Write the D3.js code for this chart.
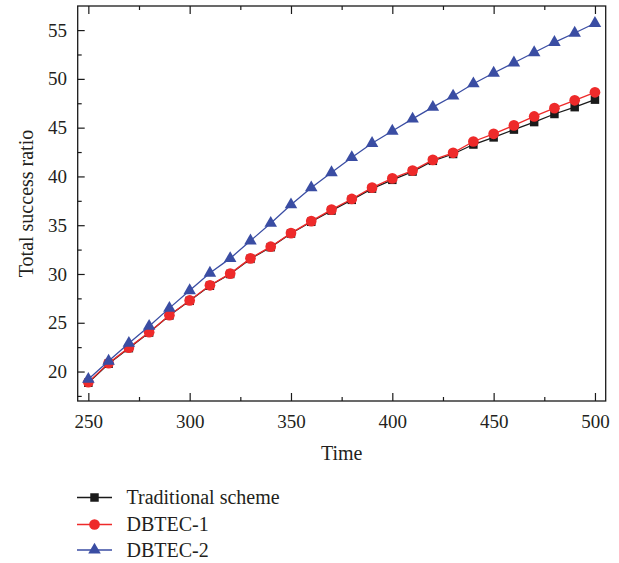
<!DOCTYPE html>
<html><head><meta charset="utf-8">
<script src="https://cdn.jsdelivr.net/npm/d3@7"></script>
<style>body{margin:0;background:#fff}svg{display:block}</style>
</head><body>
<svg id="chart" width="619" height="563"></svg>
<script>
const times = [250,260,270,280,290,300,310,320,330,340,350,360,370,380,390,400,410,420,430,440,450,460,470,480,490,500];
const traditional = [18.85,20.8,22.4,24.0,25.75,27.25,28.8,30.0,31.55,32.75,34.15,35.35,36.5,37.6,38.75,39.65,40.5,41.6,42.3,43.27,44.0,44.8,45.57,46.4,47.1,47.87];
const dbtec1 = [18.9,20.86,22.45,24.03,25.78,27.29,28.84,30.04,31.6,32.8,34.19,35.42,36.6,37.69,38.85,39.8,40.6,41.7,42.42,43.58,44.37,45.23,46.15,47.0,47.8,48.62];
const dbtec2 = [19.22,21.07,22.9,24.65,26.5,28.3,30.1,31.6,33.4,35.2,37.1,38.85,40.4,41.95,43.4,44.65,45.9,47.1,48.25,49.5,50.6,51.65,52.7,53.75,54.7,55.7];
const seriesNames = ["Traditional scheme","DBTEC-1","DBTEC-2"];
const xTicks = [250,300,350,400,450,500];
const yTicks = [20,25,30,35,40,45,50,55];

const colors = ["#1a1a1a","#ee2a2a","#3a4da3"];
const shapes = [d3.symbolSquare, d3.symbolCircle, d3.symbolTriangle];
const sizes = [72, 90, 68];
const font = "'Liberation Serif','Times New Roman',serif";

const svg = d3.select("#chart");
const L = 77.7, R = 605.7, T = 6, B = 401;
const x = d3.scaleLinear().domain([244.75, 505.3]).range([L, R]);
const y = d3.scaleLinear().domain([16.98, 57.47]).range([B, T]);

const series = [traditional, dbtec1, dbtec2];

series.forEach((vals, i) => {
  const data = times.map((t, j) => ({t, v: vals[j]}));
  svg.append("path").datum(data)
    .attr("fill","none").attr("stroke",colors[i]).attr("stroke-width",1.3)
    .attr("d", d3.line().x(d=>x(d.t)).y(d=>y(d.v)));
  svg.append("g").selectAll("path").data(data).join("path")
    .attr("transform", d=>`translate(${x(d.t)},${y(d.v)})`)
    .attr("d", d3.symbol().type(shapes[i]).size(sizes[i]))
    .attr("fill", colors[i]);
});

svg.append("rect").attr("x",L).attr("y",T).attr("width",R-L).attr("height",B-T)
  .attr("fill","none").attr("stroke","#1a1a1a").attr("stroke-width",1.3);

const xMinor = d3.range(275, 501, 50);
const yMinor = d3.range(17.5, 57.5, 5);
const gx = svg.append("g").attr("transform",`translate(0,${B})`)
  .call(d3.axisBottom(x).tickValues(xTicks).tickSize(-8).tickPadding(13.5).tickFormat(d3.format("d")));
const gxm = svg.append("g").attr("transform",`translate(0,${B})`)
  .call(d3.axisBottom(x).tickValues(xMinor).tickSize(-4).tickFormat(""));
const gxt = svg.append("g").attr("transform",`translate(0,${T})`)
  .call(d3.axisTop(x).tickValues(xTicks).tickSize(-8).tickFormat(""));
const gxtm = svg.append("g").attr("transform",`translate(0,${T})`)
  .call(d3.axisTop(x).tickValues(xMinor).tickSize(-4).tickFormat(""));
const gy = svg.append("g").attr("transform",`translate(${L},0)`)
  .call(d3.axisLeft(y).tickValues(yTicks).tickSize(-7).tickPadding(10.7).tickFormat(d3.format("d")));
const gym = svg.append("g").attr("transform",`translate(${L},0)`)
  .call(d3.axisLeft(y).tickValues(yMinor).tickSize(-4).tickFormat(""));
[gx,gxm,gxt,gxtm,gy,gym].forEach(g=>{
  g.select(".domain").remove();
  g.selectAll(".tick line").attr("stroke","#1a1a1a").attr("stroke-width",1.2);
  g.selectAll("text").attr("font-family",font).attr("font-size",19).attr("fill","#231f20");
});

svg.append("text").attr("x",(L+R)/2).attr("y",460).attr("text-anchor","middle")
  .attr("font-family",font).attr("font-size",20).attr("fill","#231f20").text("Time");
svg.append("text").attr("transform",`translate(33,${(T+B)/2}) rotate(-90)`)
  .attr("text-anchor","middle").attr("font-family",font).attr("font-size",20).attr("fill","#231f20")
  .text("Total success ratio");

const legY = [497.5, 524.5, 550];
seriesNames.forEach((name, i) => {
  const g = svg.append("g");
  g.append("line").attr("x1",77).attr("x2",112).attr("y1",legY[i]).attr("y2",legY[i])
    .attr("stroke",colors[i]).attr("stroke-width",1.3);
  g.append("path").attr("transform",`translate(94.5,${legY[i]})`)
    .attr("d", d3.symbol().type(shapes[i]).size(sizes[i])).attr("fill",colors[i]);
  g.append("text").attr("x",126.5).attr("y",legY[i]).attr("dy","0.33em")
    .attr("font-family",font).attr("font-size",20).attr("fill","#231f20").text(name);
});
</script>
</body></html>
